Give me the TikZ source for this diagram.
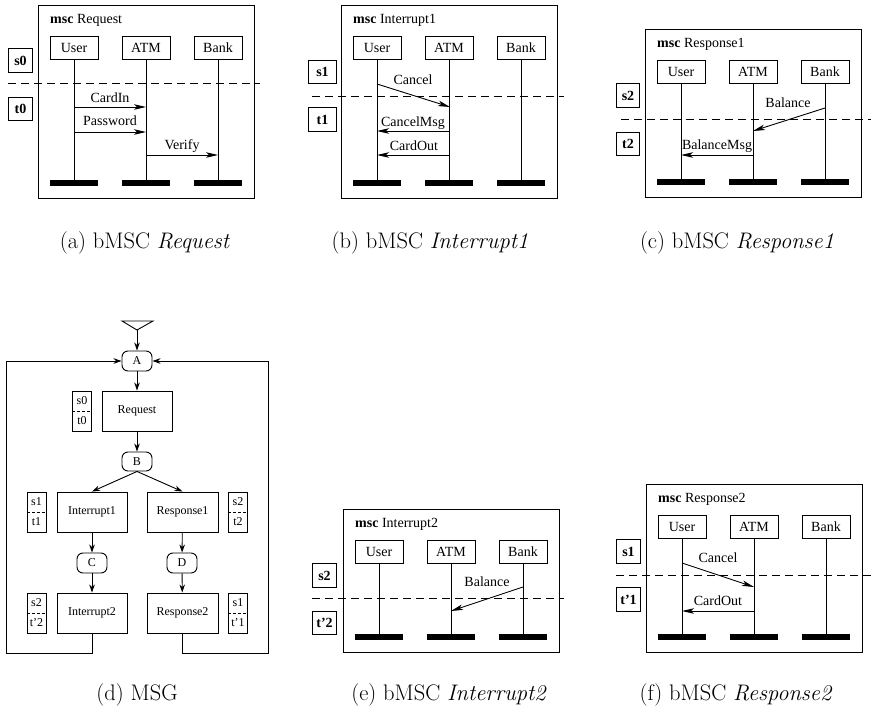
\documentclass[tikz,border=0pt]{standalone}
\usepackage{fontspec}
\newfontfamily\tms{Liberation Serif}
\usetikzlibrary{arrows.meta,calc}

\tikzset{
  mscframe/.style={draw, line width=1pt, inner sep=0pt, anchor=north west},
  msctitle/.style={anchor=west, inner sep=0pt, font=\tms\fontsize{14}{16}\selectfont},
  inst/.style={draw, line width=0.9pt, minimum width=48pt, minimum height=23pt,
    inner sep=0pt, font=\tms\fontsize{14}{16}\selectfont},
  endbar/.style={fill=black, minimum width=48pt, minimum height=5.5pt, inner sep=0pt},
  lifeline/.style={line width=0.9pt},
  msg/.style={line width=0.9pt, -{Stealth[length=12pt,width=5.5pt,inset=3pt]}},
  msglabel/.style={inner sep=0pt, font=\tms\fontsize{14}{16}\selectfont},
  cond/.style={draw, line width=1pt, inner sep=0pt, anchor=north west,
    font=\tms\bfseries\fontsize{14}{16}\selectfont},
  cut/.style={line width=0.9pt, dash pattern=on 8pt off 5pt},
  gbox/.style={draw, line width=0.9pt, minimum width=70pt, minimum height=40pt,
    inner sep=0pt, font=\tms\fontsize{12}{14}\selectfont},
  gconn/.style={draw, line width=0.9pt, rounded corners=6pt, minimum width=30pt,
    minimum height=20pt, inner sep=0pt, font=\tms\fontsize{12}{14}\selectfont},
  gstate/.style={draw, line width=0.9pt, minimum width=19pt, minimum height=40pt, inner sep=0pt},
  gtext/.style={inner sep=0pt, font=\tms\fontsize{12}{14}\selectfont},
  garrow/.style={line width=0.9pt, -{Stealth[length=8pt,width=5.5pt,inset=2.5pt]}},
  subcap/.style={anchor=base, inner sep=0pt, font=\fontsize{22.5}{27}\selectfont},
}

% one bMSC: frame, title, three instances with lifelines and end bars
% #1 prefix, #2 x, #3 y of the frame's top left corner, #4 frame height, #5 name
\newcommand{\bmscpanel}[5]{%
  \begin{scope}[shift={(#2,#3)}]
    \node[mscframe, minimum width=216pt, minimum height=#4pt] (#1-frame) at (0,0) {};
    \node[msctitle] (#1-title) at (12,15) {\textbf{msc}\ #5};
    \node[inst] (#1-user) at (36,42.5) {User};
    \node[inst] (#1-atm)  at (108,42.5) {ATM};
    \node[inst] (#1-bank) at (180,42.5) {Bank};
    \node[endbar] (#1-ubar) at (36,#4-15.25) {};
    \node[endbar] (#1-abar) at (108,#4-15.25) {};
    \node[endbar] (#1-bbar) at (180,#4-15.25) {};
    \draw[lifeline] (#1-user) -- (#1-ubar);
    \draw[lifeline] (#1-atm) -- (#1-abar);
    \draw[lifeline] (#1-bank) -- (#1-bbar);
  \end{scope}}

% a pre/post condition pair in the graph: two labels split by a dashed line
\newcommand{\stpair}[5]{%
  \node[gstate] (#1) at (#2,#3) {};
  \draw[line width=0.7pt, dash pattern=on 3pt off 2pt] (#1.west) -- (#1.east);
  \node[gtext] (#1-top) at ($(#1.center)+(0,-10)$) {#4};
  \node[gtext] (#1-bot) at ($(#1.center)+(0,10)$) {#5};}

\begin{document}
\begin{tikzpicture}[x=1pt, y=-1pt]
\useasboundingbox (0,0) rectangle (871,718);

% ---------------- (a) Request ----------------
\bmscpanel{a}{38}{5}{193}{Request}
\draw[cut] (8,83) coordinate (a-cl) -- (260,83) coordinate (a-cr);
\node[cond, minimum width=24pt, minimum height=24pt] (a-s) at (8,48) {s0};
\node[cond, minimum width=24pt, minimum height=23pt] (a-t) at (8,97) {t0};
\coordinate (a-m1s) at (74,107);  \coordinate (a-m1e) at (146,107);
\coordinate (a-m2s) at (74,132);  \coordinate (a-m2e) at (146,132);
\coordinate (a-m3s) at (146,155); \coordinate (a-m3e) at (218,155);
\draw[msg] (a-m1s) -- (a-m1e);
\draw[msg] (a-m2s) -- (a-m2e);
\draw[msg] (a-m3s) -- (a-m3e);
\node[msglabel] (a-l1) at (110,98) {CardIn};
\node[msglabel] (a-l2) at (110,121) {Password};
\node[msglabel] (a-l3) at (182,146) {Verify};

% ---------------- (b) Interrupt1 ----------------
\bmscpanel{b}{341}{5}{193}{Interrupt1}
\draw[cut] (312,96) coordinate (b-cl) -- (564,96) coordinate (b-cr);
\node[cond, minimum width=28pt, minimum height=23pt] (b-s) at (308,60) {s1};
\node[cond, minimum width=28pt, minimum height=24pt] (b-t) at (308,107) {t1};
\coordinate (b-m1s) at (377,84);  \coordinate (b-m1e) at (450,107);
\coordinate (b-m2s) at (450,131); \coordinate (b-m2e) at (377,131);
\coordinate (b-m3s) at (450,155); \coordinate (b-m3e) at (377,155);
\draw[msg] (b-m1s) -- (b-m1e);
\draw[msg] (b-m2s) -- (b-m2e);
\draw[msg] (b-m3s) -- (b-m3e);
\node[msglabel] (b-l1) at (413,80) {Cancel};
\node[msglabel] (b-l2) at (413,123) {CancelMsg};
\node[msglabel] (b-l3) at (414,146) {CardOut};

% ---------------- (c) Response1 ----------------
\bmscpanel{c}{645}{29}{168}{Response1}
\draw[cut] (621,119) coordinate (c-cl) -- (871,119) coordinate (c-cr);
\node[cond, minimum width=23pt, minimum height=24pt] (c-s) at (616,83) {s2};
\node[cond, minimum width=23pt, minimum height=23pt] (c-t) at (616,132) {t2};
\coordinate (c-m1s) at (825,108); \coordinate (c-m1e) at (753,131);
\coordinate (c-m2s) at (753,155); \coordinate (c-m2e) at (681,155);
\draw[msg] (c-m1s) -- (c-m1e);
\draw[msg] (c-m2s) -- (c-m2e);
\node[msglabel] (c-l1) at (788,103) {Balance};
\node[msglabel] (c-l2) at (717,146) {BalanceMsg};

% ---------------- (e) Interrupt2 ----------------
\bmscpanel{e}{343}{509}{143}{Interrupt2}
\draw[cut] (312,598) coordinate (e-cl) -- (564,598) coordinate (e-cr);
\node[cond, minimum width=24pt, minimum height=24pt] (e-s) at (312,563) {s2};
\node[cond, minimum width=24pt, minimum height=23pt] (e-t) at (312,611) {t’2};
\coordinate (e-m1s) at (523,587); \coordinate (e-m1e) at (451,611);
\draw[msg] (e-m1s) -- (e-m1e);
\node[msglabel] (e-l1) at (487,582) {Balance};

% ---------------- (f) Response2 ----------------
\bmscpanel{f}{646}{484}{168}{Response2}
\draw[cut] (616,575) coordinate (f-cl) -- (871,575) coordinate (f-cr);
\node[cond, minimum width=24pt, minimum height=24pt] (f-s) at (616,539) {s1};
\node[cond, minimum width=24pt, minimum height=24pt] (f-t) at (616,587) {t’1};
\coordinate (f-m1s) at (682,563); \coordinate (f-m1e) at (754,587);
\coordinate (f-m2s) at (754,611); \coordinate (f-m2e) at (682,611);
\draw[msg] (f-m1s) -- (f-m1e);
\draw[msg] (f-m2s) -- (f-m2e);
\node[msglabel] (f-l1) at (718,558) {Cancel};
\node[msglabel] (f-l2) at (718,601) {CardOut};

% ---------------- (d) MSG ----------------
\draw[line width=0.9pt] (122,321) -- (153,321) -- (137,330) -- cycle;
\coordinate (start) at (137,330);
\node[gconn] (A) at (137,361) {A};
\node[gbox] (req) at (137,411) {Request};
\node[gconn, minimum height=19pt] (B) at (137,461.5) {B};
\node[gbox] (int1) at (92,512) {Interrupt1};
\node[gbox, minimum width=71pt] (res1) at (182.5,512) {Response1};
\node[gconn] (C) at (92,563) {C};
\node[gconn] (D) at (182,563) {D};
\node[gbox] (int2) at (92,613) {Interrupt2};
\node[gbox, minimum width=71pt] (res2) at (182.5,613) {Response2};
\stpair{st0}{82}{411}{s0}{t0}
\stpair{st1}{36.5}{512}{s1}{t1}
\stpair{st2}{238}{512}{s2}{t2}
\stpair{st3}{36.5}{613}{s2}{t’2}
\stpair{st4}{238}{613}{s1}{t’1}
\coordinate (loopL) at (6,653);
\coordinate (loopR) at (268,653);
\draw[garrow] (start) -- (A);
\draw[garrow] (A) -- (req);
\draw[garrow] (req) -- (B);
\draw[garrow] (B.south) -- (int1.north);
\draw[garrow] (B.south) -- (res1.north);
\draw[garrow] (int1) -- (C);
\draw[garrow] (C) -- (int2);
\draw[garrow] (res1) -- (D);
\draw[garrow] (D) -- (res2);
\draw[garrow] (int2.south) |- (loopL) |- (A.west);
\draw[garrow] (res2.south) |- (loopR) |- (A.east);

% ---------------- captions ----------------
\node[subcap] (cap-a) at (145,248) {(a) bMSC \textit{Request}};
\node[subcap] (cap-b) at (430,248) {(b) bMSC \textit{Interrupt1}};
\node[subcap] (cap-c) at (737,248) {(c) bMSC \textit{Response1}};
\node[subcap] (cap-d) at (137,700) {(d) MSG};
\node[subcap] (cap-e) at (449,700) {(e) bMSC \textit{Interrupt2}};
\node[subcap] (cap-f) at (736,700) {(f) bMSC \textit{Response2}};
\end{tikzpicture}
\end{document}
